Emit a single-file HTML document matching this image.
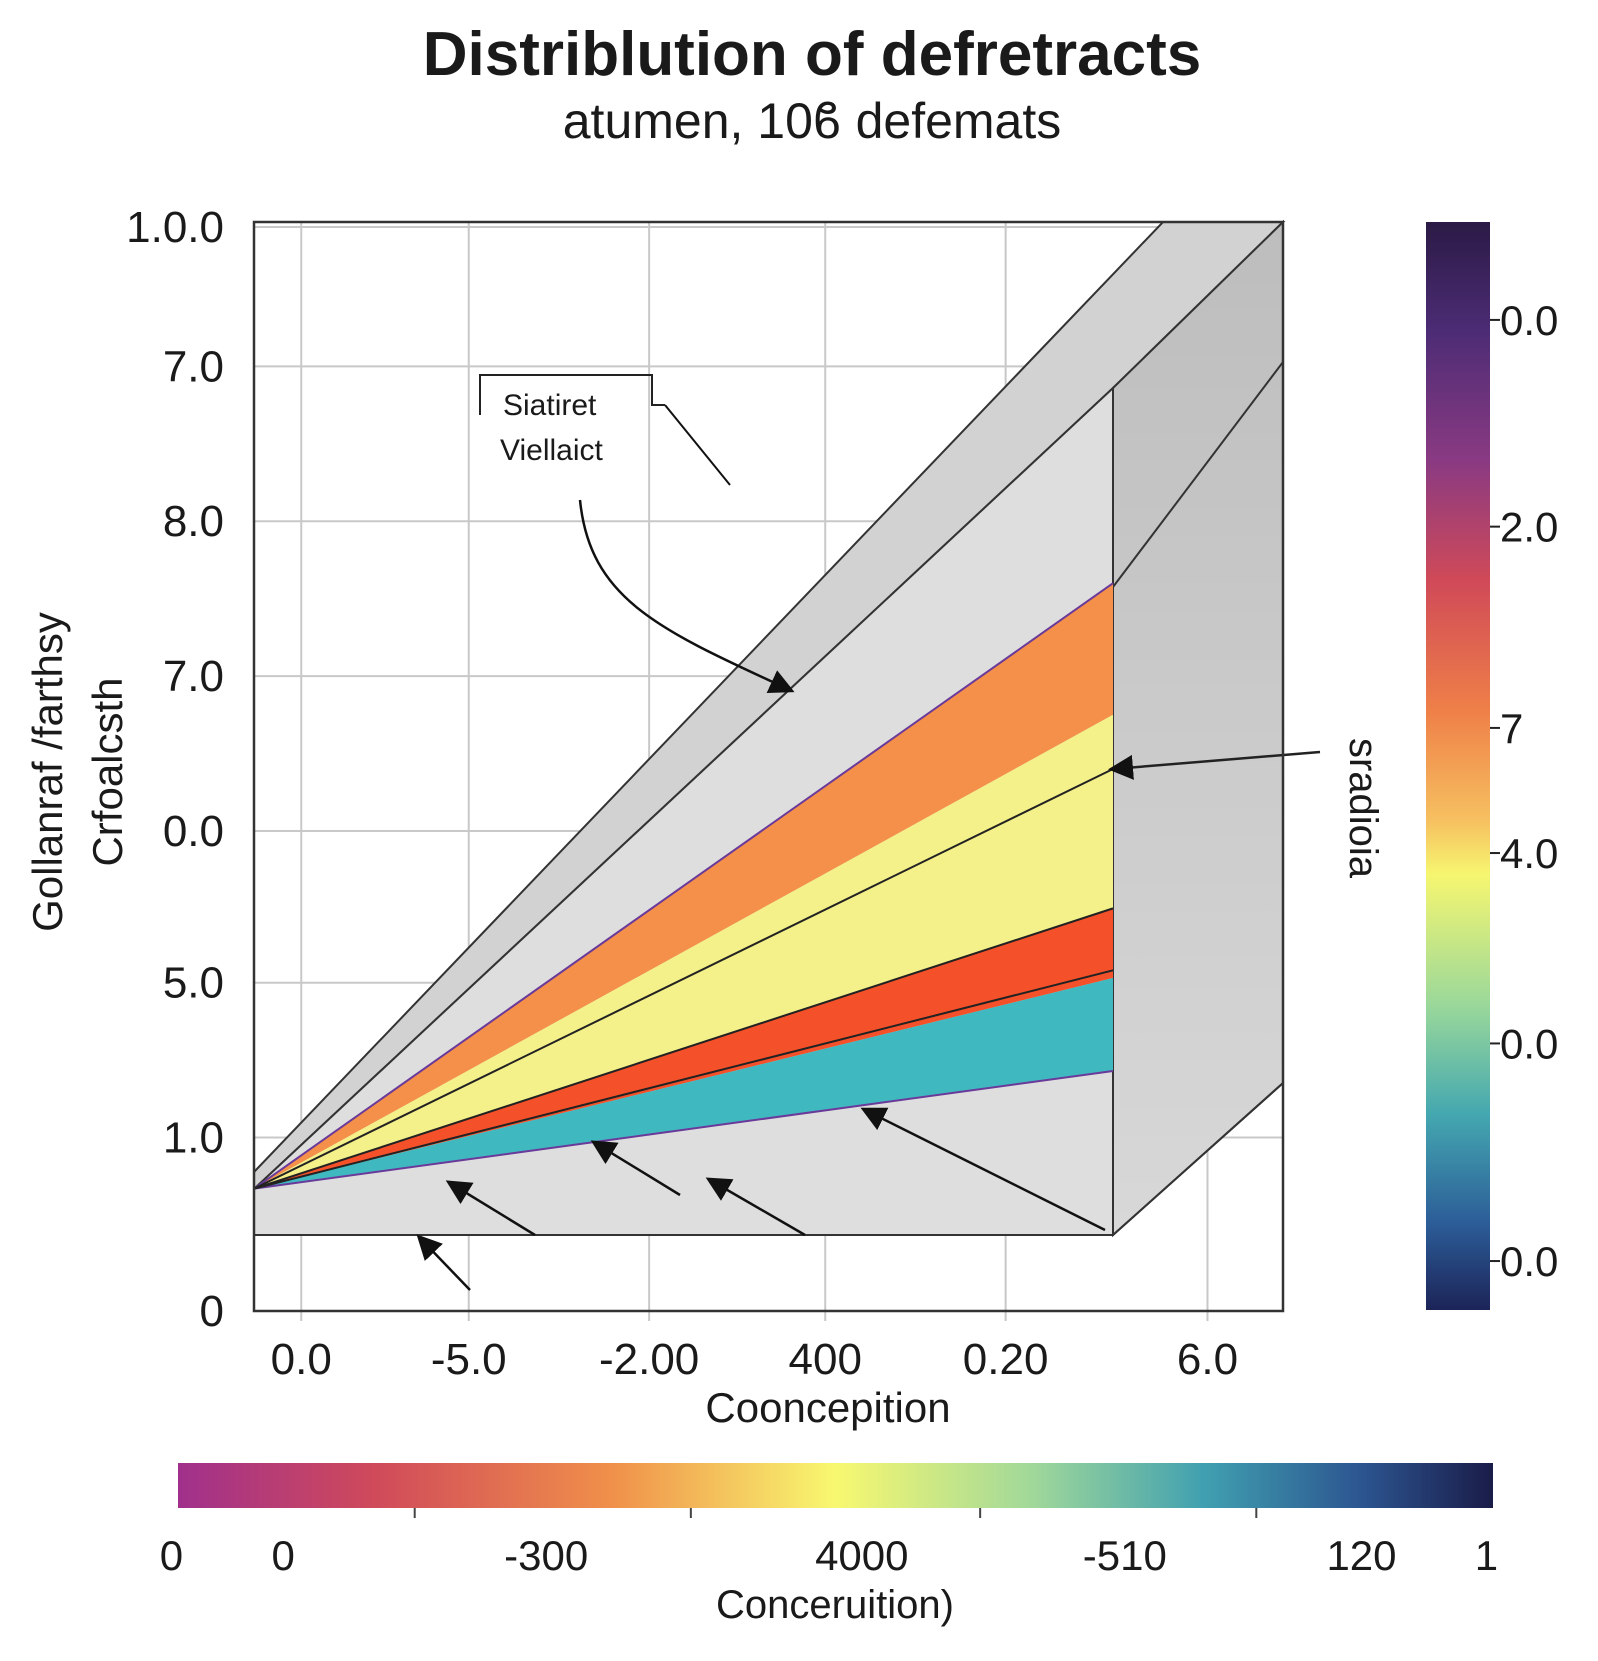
<!DOCTYPE html>
<html><head><meta charset="utf-8">
<style>
html,body{margin:0;padding:0;background:#fff;}
svg text{font-family:"Liberation Sans",sans-serif;fill:#1a1a1a;}
</style></head>
<body>
<svg id="chart" width="1598" height="1656" viewBox="0 0 1598 1656" xmlns="http://www.w3.org/2000/svg">
<defs>
<linearGradient id="cbv" x1="0" y1="0" x2="0" y2="1">
<stop offset="0" stop-color="#2b1a45"/><stop offset="0.1" stop-color="#4c2c75"/><stop offset="0.22" stop-color="#8a3a82"/>
<stop offset="0.33" stop-color="#d04a58"/><stop offset="0.45" stop-color="#ef8048"/><stop offset="0.55" stop-color="#f6c060"/>
<stop offset="0.6" stop-color="#f6f670"/><stop offset="0.72" stop-color="#9ad89a"/><stop offset="0.82" stop-color="#44a8b0"/>
<stop offset="0.92" stop-color="#2c5d98"/><stop offset="1" stop-color="#1c2458"/></linearGradient>
<linearGradient id="cbh" x1="0" y1="0" x2="1" y2="0">
<stop offset="0" stop-color="#a0308c"/><stop offset="0.15" stop-color="#d04a5a"/><stop offset="0.33" stop-color="#f0904a"/>
<stop offset="0.5" stop-color="#f8f870"/><stop offset="0.65" stop-color="#a0d89a"/><stop offset="0.78" stop-color="#40a0b0"/>
<stop offset="0.9" stop-color="#2c5590"/><stop offset="1" stop-color="#1a1c48"/></linearGradient>
<linearGradient id="sideg" x1="0" y1="0" x2="0" y2="1"><stop offset="0" stop-color="#bdbdbd"/><stop offset="1" stop-color="#d8d8d8"/></linearGradient>
<marker id="ah" markerWidth="10" markerHeight="10" refX="8" refY="5" orient="auto"><path d="M0,0 L10,5 L0,10 z" fill="#111"/></marker>
</defs>
<text x="812" y="75" font-size="62" font-weight="bold" text-anchor="middle">Distriblution of defretracts</text>
<text x="812" y="138" font-size="50" text-anchor="middle">atumen, 10ϐ defemats</text>
<g id="plot"></g>
<text x="828" y="1422" font-size="42" text-anchor="middle">Cooncepition</text>
<text transform="translate(62,772) rotate(-90)" font-size="42" text-anchor="middle">Gollanraf /farthsy</text>
<text transform="translate(122,772) rotate(-90)" font-size="42" text-anchor="middle">Crfoalcsth</text>
<text transform="translate(1350,808) rotate(90)" font-size="40" text-anchor="middle">sradioia</text>
<g id="ann">
<text x="503" y="415" font-size="30">Siatiret</text>
<text x="500" y="460" font-size="30">Viellaict</text>
</g>
<rect x="1426" y="222" width="64" height="1088" fill="url(#cbv)"/>
<g id="rcb"></g>
<rect x="178" y="1463" width="1315" height="45" fill="url(#cbh)"/>
<g id="bcb"></g>
<text x="835" y="1618" font-size="40" text-anchor="middle">Conceruition)</text>
</svg>
<script>
const yTickLabels=["0","1.0","5.0","0.0","7.0","8.0","7.0","1.0.0"];
const yTickPos=[0,1.12,2.12,3.1,4.1,5.1,6.1,7];
const xTickLabels=["0.0","-5.0","-2.00","400","0.20","6.0"];
const xTickPos=[0.055,0.25,0.46,0.665,0.875,1.11];
const bandTop=[4.7,3.85,2.6,2.15];
const bandBottom=[3.85,2.6,2.15,1.55];
const bandColors=["#f4904a","#f4f08a","#f4502a","#40b8c0"];
const rayEnds=[3.5,2.6,2.2];
const rightCbLabels=["0.0","2.0","7","4.0","0.0","0.0"];
const rightCbPos=[0.09,0.28,0.465,0.58,0.755,0.955];
const bottomCbLabels=["0","0","-300","4000","-510","120","1"];
const bottomCbPos=[-0.005,0.08,0.28,0.52,0.72,0.9,0.995];
const bottomCbTicks=[0.18,0.39,0.61,0.82];
const NS="http://www.w3.org/2000/svg";
const X0=254,X1=1113,Y0=1311,Y1=227;
function xs(v){return X0+v*(X1-X0);}
function ys(v){return Y0-v*(Y0-Y1)/7;}
function mk(tag,attrs,parent){const e=document.createElementNS(NS,tag);for(const k in attrs)e.setAttribute(k,attrs[k]);parent.appendChild(e);return e;}
const plot=document.getElementById('plot');
for(let i=0;i<yTickPos.length;i++){
 const l=mk('line',{x1:254,x2:1283,y1:ys(yTickPos[i]),y2:ys(yTickPos[i]),stroke:'#c8c8c8','stroke-width':2},plot);
 
 
 const t=mk('text',{x:224,y:ys(yTickPos[i])+15,'font-size':44,'text-anchor':'end'},plot);
 t.textContent=yTickLabels[i];
 
 
}
for(let i=0;i<xTickPos.length;i++){
 const x=xs(xTickPos[i]);
 const l=mk('line',{x1:x,x2:x,y1:222,y2:1321,stroke:'#c8c8c8','stroke-width':2},plot);
 
 
 const t=mk('text',{x:x,y:1374,'font-size':44,'text-anchor':'middle'},plot);
 t.textContent=xTickLabels[i];
 
 
}
const ax=ys(0.79);
const topFace=mk('polygon',{points:`254,1172 1163,222 1283,222 1113,388 254,1189`,fill:'#d2d2d2',stroke:'#333','stroke-width':2},plot);


const frontFace=mk('polygon',{points:`254,1189 1113,388 1113,1235 254,1235`,fill:'#dedede',stroke:'#333','stroke-width':2},plot);


const sideFace=mk('polygon',{points:`1113,388 1283,222 1283,1083 1113,1235`,fill:'url(#sideg)',stroke:'#333','stroke-width':2},plot);


mk('line',{x1:1113,y1:587,x2:1283,y2:362,stroke:'#333','stroke-width':2},plot);
mk('line',{x1:1113,y1:1235,x2:1283,y2:1083,stroke:'#333','stroke-width':2},plot);
mk('line',{x1:254,y1:1235,x2:1113,y2:1235,stroke:'#333','stroke-width':2},plot);
for(let i=0;i<bandTop.length;i++){
 const p=mk('polygon',{points:`${xs(0)},${ax} ${xs(1)},${ys(bandTop[i])} ${xs(1)},${ys(bandBottom[i])}`,fill:bandColors[i]},plot);
 
 
}
mk('polyline',{points:`${xs(0)},${ax} ${xs(1)},${ys(bandTop[0])}`,fill:'none',stroke:'#6a3a9a','stroke-width':2},plot);
mk('polyline',{points:`${xs(0)},${ax} ${xs(1)},${ys(bandBottom[3])}`,fill:'none',stroke:'#6a3a9a','stroke-width':2},plot);
for(let i=0;i<rayEnds.length;i++){
 const r=mk('line',{x1:xs(0),y1:ax,x2:xs(1),y2:ys(rayEnds[i]),stroke:'#222','stroke-width':2},plot);
 
 
}
mk('line',{x1:1320,y1:752,x2:1113,y2:ys(3.5),stroke:'#222','stroke-width':2.5,'marker-end':'url(#ah)'},plot);
const arrows=[[1105,1230,865,1110],[535,1235,450,1183],[470,1290,420,1238],[805,1235,710,1180],[680,1195,595,1143]];
for(const a of arrows){mk('line',{x1:a[0],y1:a[1],x2:a[2],y2:a[3],stroke:'#111','stroke-width':2.5,'marker-end':'url(#ah)'},plot);}
mk('path',{d:'M580,500 C590,600 660,630 790,690',fill:'none',stroke:'#111','stroke-width':2.5,'marker-end':'url(#ah)'},plot);
mk('path',{d:'M665,405 L730,485',fill:'none',stroke:'#111','stroke-width':2},plot);
mk('path',{d:'M480,415 L480,375 L652,375 L652,405 L665,405',fill:'none',stroke:'#222','stroke-width':2},plot);
mk('rect',{x:254,y:222,width:1029,height:1089,fill:'none',stroke:'#333','stroke-width':2.5},plot);
const rcb=document.getElementById('rcb');
for(let i=0;i<rightCbLabels.length;i++){
 const y=222+rightCbPos[i]*1088;
 mk('line',{x1:1490,x2:1500,y1:y,y2:y,stroke:'#222','stroke-width':2},rcb);
 const t=mk('text',{x:1500,y:y+15,'font-size':42},rcb);
 t.textContent=rightCbLabels[i];
 
 
}
const bcb=document.getElementById('bcb');
for(let i=0;i<bottomCbTicks.length;i++){
 const x=178+bottomCbTicks[i]*1315;
 mk('line',{x1:x,x2:x,y1:1508,y2:1518,stroke:'#444','stroke-width':2},bcb);
}
for(let i=0;i<bottomCbLabels.length;i++){
 const x=178+bottomCbPos[i]*1315;
 const t=mk('text',{x:x,y:1570,'font-size':42,'text-anchor':'middle'},bcb);
 t.textContent=bottomCbLabels[i];
 
 
}
</script>
</body></html>
